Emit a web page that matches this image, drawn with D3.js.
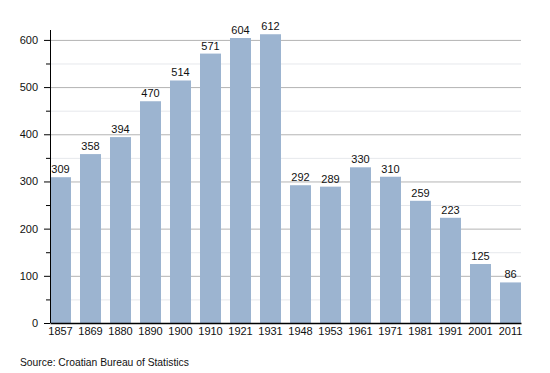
<!DOCTYPE html>
<html>
<head>
<meta charset="utf-8">
<script src="https://cdn.jsdelivr.net/npm/d3@7"></script>
<style>
  body { margin: 0; background: #fff; }
  svg text { font-family: "Liberation Sans", Arial, sans-serif; fill: #111; }
</style>
</head>
<body>
<div id="root"></div>
<script>
const WIDTH = 550;
const HEIGHT = 373;
const MARGIN = {top: 30, right: 29, bottom: 50, left: 50};

const years = ["1857", "1869", "1880", "1890", "1900", "1910", "1921", "1931",
    "1948", "1953", "1961", "1971", "1981", "1991", "2001", "2011"];
const population = [309, 358, 394, 470, 514, 571, 604, 612,
    292, 289, 330, 310, 259, 223, 125, 86];
const yMajorTicks = [0, 100, 200, 300, 400, 500, 600];
const yMinorTicks = [50, 150, 250, 350, 450, 550];
const sourceNote = "Source: Croatian Bureau of Statistics";

const xScale = d3.scaleBand()
    .domain(years)
    .range([MARGIN.left, WIDTH - MARGIN.right])
    .paddingInner(0.3)
    .paddingOuter(0);

const yScale = d3.scaleLinear()
    .domain([0, 621])
    .range([HEIGHT - MARGIN.bottom, MARGIN.top]);

const svg = d3.select("#root")
    .append("svg")
    .attr("width", WIDTH)
    .attr("height", HEIGHT);

// grid lines
const grid = svg.append("g").attr("class", "grid");

grid.selectAll(".minor")
    .data(yMinorTicks)
    .enter()
    .append("line")
    .attr("x1", MARGIN.left)
    .attr("x2", WIDTH - MARGIN.right)
    .attr("y1", d => yScale(d) + 0.5)
    .attr("y2", d => yScale(d) + 0.5)
    .attr("stroke", "#e6e8ec")
    .attr("stroke-width", 1);

grid.selectAll(".major")
    .data(yMajorTicks.slice(1))
    .enter()
    .append("line")
    .attr("x1", MARGIN.left)
    .attr("x2", WIDTH - MARGIN.right)
    .attr("y1", d => yScale(d) + 0.5)
    .attr("y2", d => yScale(d) + 0.5)
    .attr("stroke", "#b4b4b4")
    .attr("stroke-width", 1);

// bars
svg.selectAll(".bar")
    .data(population)
    .enter()
    .append("rect")
    .attr("class", "bar")
    .attr("x", (d, i) => xScale(years[i]))
    .attr("y", d => yScale(d))
    .attr("width", xScale.bandwidth())
    .attr("height", d => yScale(0) - yScale(d))
    .attr("fill", "#9cb4d0");

// value labels
svg.selectAll(".value")
    .data(population)
    .enter()
    .append("text")
    .attr("class", "value")
    .attr("x", (d, i) => xScale(years[i]) + xScale.bandwidth() / 2)
    .attr("y", d => yScale(d) - 4)
    .attr("text-anchor", "middle")
    .attr("font-size", 11)
    .text(d => d);

// axes
const yAxis = d3.axisLeft(yScale)
    .tickValues(yMajorTicks)
    .tickSize(6)
    .tickPadding(6);

const yAxisG = svg.append("g")
    .attr("transform", `translate(${MARGIN.left}, 0)`)
    .call(yAxis);
yAxisG.select(".domain").remove();
yAxisG.selectAll("text").attr("font-size", 11).attr("font-family", null);

svg.append("g")
    .selectAll("line")
    .data(yMinorTicks)
    .enter()
    .append("line")
    .attr("x1", MARGIN.left - 4)
    .attr("x2", MARGIN.left)
    .attr("y1", d => yScale(d) + 0.5)
    .attr("y2", d => yScale(d) + 0.5)
    .attr("stroke", "#000");

svg.append("line")
    .attr("x1", MARGIN.left + 0.5)
    .attr("x2", MARGIN.left + 0.5)
    .attr("y1", MARGIN.top)
    .attr("y2", yScale(0))
    .attr("stroke", "#000");

const xAxis = d3.axisBottom(xScale)
    .tickSize(0)
    .tickPadding(4);

const xAxisG = svg.append("g")
    .attr("transform", `translate(0, ${yScale(0)})`)
    .call(xAxis);
xAxisG.select(".domain").attr("stroke", "#000").attr("stroke-width", 1.5);
xAxisG.selectAll("text").attr("font-size", 11).attr("font-family", null);

svg.append("text")
    .attr("x", 20)
    .attr("y", 366)
    .attr("font-size", 10.3)
    .text(sourceNote);
</script>
</body>
</html>
